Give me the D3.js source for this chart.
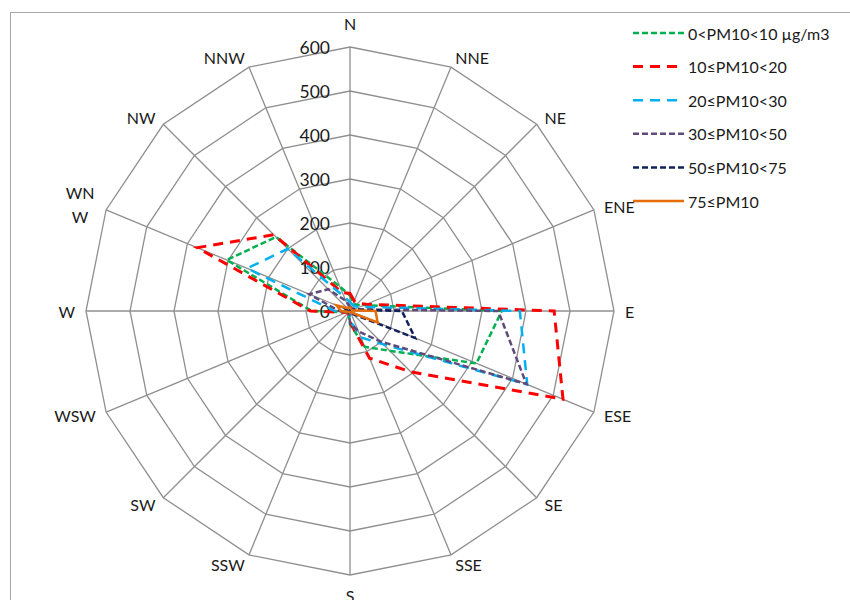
<!DOCTYPE html>
<html>
<head>
<meta charset="utf-8">
<script src="https://cdn.jsdelivr.net/npm/d3@7"></script>
<style>
  body { margin: 0; background: #fff; }
  text { font-family: Lato, "Liberation Sans", sans-serif; fill: #1a1a1a; }
</style>
</head>
<body>
<div class="container"></div>
<script>
// directions clockwise from north
const directions = ['N', 'NNE', 'NE', 'ENE', 'E', 'ESE', 'SE', 'SSE',
                    'S', 'SSW', 'SW', 'WSW', 'W', 'WNW', 'NW', 'NNW']
const ticks = [0, 100, 200, 300, 400, 500, 600]

const pm0_10   = [35, 20, 20, 35, 345, 311, 128, 88, 30, 8, 5, 8, 87, 303, 238, 60]
const pm10_20  = [40, 25, 25, 40, 464, 524, 196, 116, 25, 8, 5, 8, 90, 376, 245, 45]
const pm20_30  = [20, 15, 15, 25, 386, 436, 107, 65, 22, 5, 5, 5, 35, 253, 200, 35]
const pm30_50  = [10, 8, 8, 10, 337, 434, 98, 50, 27, 5, 5, 5, 25, 100, 70, 25]
const pm50_75  = [5, 3, 3, 8, 118, 160, 10, 5, 5, 3, 3, 3, 5, 10, 5, 5]
const pm75     = [8, 5, 5, 5, 58, 68, 5, 3, 3, 3, 3, 5, 20, 33, 10, 8]

const seriesNames = ['0<PM10<10 \u00b5g/m3', '10\u2264PM10<20', '20\u2264PM10<30',
                     '30\u2264PM10<50', '50\u2264PM10<75', '75\u2264PM10']

const series = [
  { name: seriesNames[0], values: pm0_10,  color: '#00b050', dash: '6,3',  width: 2.5 },
  { name: seriesNames[1], values: pm10_20, color: '#ff0000', dash: '10,7', width: 3 },
  { name: seriesNames[2], values: pm20_30, color: '#00b0f0', dash: '10,7', width: 2.5 },
  { name: seriesNames[3], values: pm30_50, color: '#604a7b', dash: '6,3',  width: 2.5 },
  { name: seriesNames[4], values: pm50_75, color: '#10205c', dash: '6,3',  width: 2.5 },
  { name: seriesNames[5], values: pm75,    color: '#e46c0a', dash: null,   width: 2.5 }
]

const cx = 350, cy = 311, R = 264

const svg = d3.select('.container').append('svg')
  .attr('width', 850)
  .attr('height', 600)

// chart frame
svg.append('rect')
  .attr('x', 10.5).attr('y', 12.5)
  .attr('width', 900).attr('height', 700)
  .attr('fill', 'none')
  .attr('stroke', '#a6a6a6')

const r = d3.scaleLinear().domain([0, 600]).range([0, R])
const angle = d3.scaleLinear().domain([0, directions.length]).range([0, 2 * Math.PI])

const g = svg.append('g').attr('transform', `translate(${cx},${cy})`)

const radar = d3.lineRadial()
  .angle((d, i) => angle(i))
  .radius(d => r(d))
  .curve(d3.curveLinearClosed)

// rings
g.selectAll('.ring')
  .data(ticks.slice(1))
  .enter()
  .append('path')
  .attr('class', 'ring')
  .attr('d', t => radar(directions.map(() => t)))
  .attr('fill', 'none')
  .attr('stroke', '#8f8f8f')
  .attr('stroke-width', 1.3)

// spokes
g.selectAll('.spoke')
  .data(directions)
  .enter()
  .append('line')
  .attr('class', 'spoke')
  .attr('x1', 0).attr('y1', 0)
  .attr('x2', (d, i) => r(600) * Math.sin(angle(i)))
  .attr('y2', (d, i) => -r(600) * Math.cos(angle(i)))
  .attr('stroke', '#8f8f8f')
  .attr('stroke-width', 1.3)

// direction labels, placed beside the end of each spoke
const lbl = g.selectAll('.dir')
  .data(directions)
  .enter()
  .append('text')
  .attr('class', 'dir')
  .style('font-size', '16px')
  .attr('dominant-baseline', 'central')
  .each(function(d, i) {
    const a = angle(i)
    const s = Math.sin(a), c = Math.cos(a)
    const vx = r(600) * s, vy = -r(600) * c
    const t = d3.select(this)
    if (Math.abs(s) < 0.01) {
      t.attr('text-anchor', 'middle').attr('x', vx).attr('y', c > 0 ? vy - 24 : vy + 20).text(d)
    } else if (d === 'WNW') {
      const x = vx - 10 - 16
      t.attr('text-anchor', 'middle').attr('x', x).attr('y', vy - 6)
      t.append('tspan').attr('x', x).attr('dy', '-0.75em').text('WN')
      t.append('tspan').attr('x', x).attr('dy', '1.5em').text('W')
    } else {
      t.attr('text-anchor', s > 0 ? 'start' : 'end')
        .attr('x', vx + (s > 0 ? 1 : -1) * 11 * Math.abs(s))
        .attr('y', vy - 10 * c)
        .text(d)
    }
  })

// tick labels
g.selectAll('.tick')
  .data(ticks)
  .enter()
  .append('text')
  .attr('class', 'tick')
  .attr('x', -20)
  .attr('y', d => -r(d))
  .attr('text-anchor', 'end')
  .attr('dominant-baseline', 'central')
  .style('font-size', '17.5px')
  .text(d => d)

// series
g.selectAll('.series')
  .data(series)
  .enter()
  .append('path')
  .attr('class', 'series')
  .attr('d', d => radar(d.values))
  .attr('fill', 'none')
  .attr('stroke', d => d.color)
  .attr('stroke-width', d => d.width)
  .attr('stroke-dasharray', d => d.dash)
  .attr('stroke-linejoin', 'miter')

// legend
const legend = svg.selectAll('.legend')
  .data(series)
  .enter()
  .append('g')
  .attr('class', 'legend')
  .attr('transform', (d, i) => `translate(633, ${33 + i * 33.6})`)

legend.append('line')
  .attr('x1', 0).attr('x2', 51)
  .attr('stroke', d => d.color)
  .attr('stroke-width', d => d.width)
  .attr('stroke-dasharray', d => d.dash)

legend.append('text')
  .attr('x', 55)
  .attr('dominant-baseline', 'central')
  .style('font-size', '16px')
  .text(d => d.name)
</script>
</body>
</html>
